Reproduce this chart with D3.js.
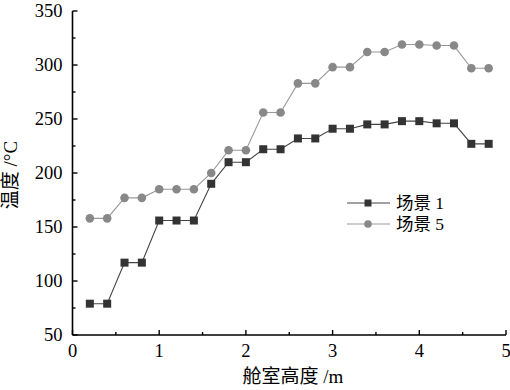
<!DOCTYPE html>
<html><head><meta charset="utf-8">
<script src="https://cdn.jsdelivr.net/npm/d3@7"></script>
<style>body{margin:0;background:#fff;} svg{display:block;}</style>
</head><body>
<svg id="c" width="510" height="390"></svg>
<script>
const heights = [0.2,0.4,0.6,0.8,1.0,1.2,1.4,1.6,1.8,2.0,2.2,2.4,2.6,2.8,3.0,3.2,3.4,3.6,3.8,4.0,4.2,4.4,4.6,4.8];
const scene1 = [79,79,117,117,156,156,156,190,210,210,222,222,232,232,241,241,245,245,248,248,246,246,227,227];
const scene5 = [158,158,177,177,185,185,185,200,221,221,256,256,283,283,298,298,312,312,319,319,318,318,297,297];
const xTicks = [0,1,2,3,4,5];
const yTicks = [50,100,150,200,250,300,350];
const seriesNames = ["场景 1","场景 5"];

const font = "'Liberation Serif','Times New Roman','Noto Sans CJK SC',serif";
const svg = d3.select("#c");
const x = d3.scaleLinear().domain([0,5]).range([72.5,506]);
const y = d3.scaleLinear().domain([50,350]).range([335,11]);
const g = svg.append("g");

g.append("line").attr("x1",x(0)).attr("x2",x(5)).attr("y1",y(50)).attr("y2",y(50)).attr("stroke","#000").attr("stroke-width",1.6);
g.append("line").attr("x1",x(0)).attr("x2",x(0)).attr("y1",y(50)).attr("y2",y(350)).attr("stroke","#000").attr("stroke-width",1.6);

const xMinor = d3.range(0.5,5,1);
xTicks.forEach(t=>{
  g.append("line").attr("x1",x(t)).attr("x2",x(t)).attr("y1",y(50)).attr("y2",y(50)-5).attr("stroke","#000").attr("stroke-width",1.4);
  g.append("text").attr("x",x(t)).attr("y",y(50)+22).attr("text-anchor","middle").attr("font-family",font).attr("font-size",18.5).text(t);
});
xMinor.forEach(t=>{
  g.append("line").attr("x1",x(t)).attr("x2",x(t)).attr("y1",y(50)).attr("y2",y(50)-3).attr("stroke","#000").attr("stroke-width",1.4);
});
const yMinor = d3.range(75,350,50);
yTicks.forEach(t=>{
  g.append("line").attr("x1",x(0)).attr("x2",x(0)+5).attr("y1",y(t)).attr("y2",y(t)).attr("stroke","#000").attr("stroke-width",1.4);
  g.append("text").attr("x",x(0)-10).attr("y",y(t)+6).attr("text-anchor","end").attr("font-family",font).attr("font-size",18.5).text(t);
});
yMinor.forEach(t=>{
  g.append("line").attr("x1",x(0)).attr("x2",x(0)+3).attr("y1",y(t)).attr("y2",y(t)).attr("stroke","#000").attr("stroke-width",1.4);
});

g.append("text").attr("x",293).attr("y",383).attr("text-anchor","middle").attr("font-family",font).attr("font-size",19).text("舱室高度 /m");
g.append("text").attr("transform","translate(17,175) rotate(-90)").attr("text-anchor","middle").attr("font-family",font).attr("font-size",19).text("温度 /°C");

const line = d3.line().x((d,i)=>x(heights[i])).y(d=>y(d));
g.append("path").datum(scene5).attr("d",line).attr("fill","none").attr("stroke","#999").attr("stroke-width",1.1);
g.selectAll(".c5").data(scene5).enter().append("circle").attr("cx",(d,i)=>x(heights[i])).attr("cy",d=>y(d)).attr("r",4.3).attr("fill","#888");
g.append("path").datum(scene1).attr("d",line).attr("fill","none").attr("stroke","#444").attr("stroke-width",1.1);
g.selectAll(".s1").data(scene1).enter().append("rect").attr("x",(d,i)=>x(heights[i])-4).attr("y",d=>y(d)-4).attr("width",8).attr("height",8).attr("fill","#333");

const leg = g.append("g");
[0,1].forEach(i=>{
  const ly = 203 + i*21;
  leg.append("line").attr("x1",347).attr("x2",390).attr("y1",ly).attr("y2",ly).attr("stroke",i?"#999":"#444").attr("stroke-width",1.1);
  if(i===0) leg.append("rect").attr("x",364.5).attr("y",ly-3.5).attr("width",7).attr("height",7).attr("fill","#333");
  else leg.append("circle").attr("cx",368).attr("cy",ly).attr("r",3.8).attr("fill","#888");
  leg.append("text").attr("x",396).attr("y",ly+6).attr("font-family",font).attr("font-size",17.5).text(seriesNames[i]);
});
</script>
</body></html>
